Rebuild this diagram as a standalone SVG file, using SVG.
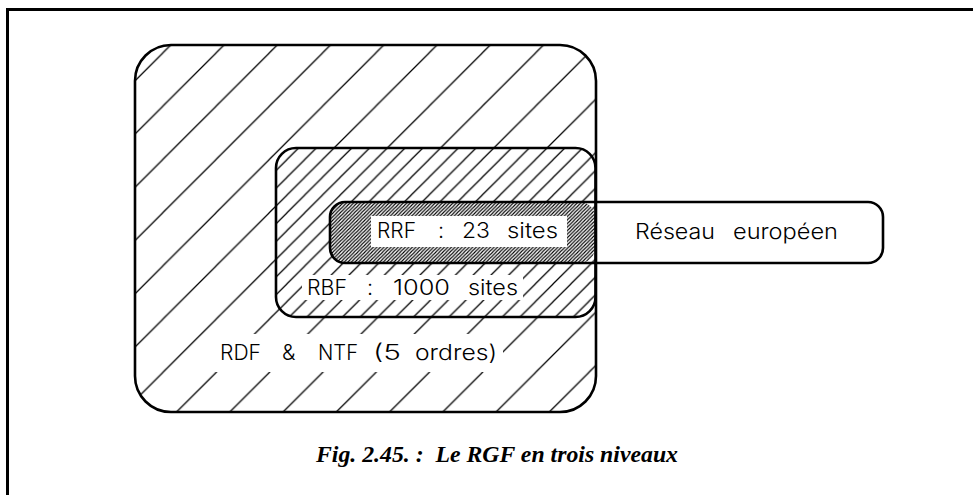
<svg xmlns="http://www.w3.org/2000/svg" width="973" height="495" viewBox="0 0 973 495">
  <style>
    .border { fill: none; stroke: #000; stroke-width: 2.6; }
    .cad { font-family: "Inter", "Roboto", "DejaVu Sans", sans-serif; font-weight: 300; font-size: 21.5px; fill: #000; }
    .caption { font-family: "Liberation Serif", "Times New Roman", serif; font-weight: bold; font-style: italic; font-size: 24px; fill: #000; white-space: pre; }
    .hatch { stroke: #000; stroke-width: 1.25; fill: none; }
  </style>
  <defs>
    <pattern id="hOuter" patternUnits="userSpaceOnUse" x="2.8" y="0" width="53.25" height="53.25">
      <path class="hatch" d="M-1,54.25 L54.25,-1 M-1,1 L1,-1 M52.25,54.25 L54.25,52.25"/>
    </pattern>
    <pattern id="hMid" patternUnits="userSpaceOnUse" x="2.8" y="0" width="17.75" height="17.75">
      <path class="hatch" d="M-1,18.75 L18.75,-1 M-1,1 L1,-1 M16.75,18.75 L18.75,16.75"/>
    </pattern>
    <pattern id="hInner" patternUnits="userSpaceOnUse" x="2.8" y="0" width="3.55" height="3.55">
      <path stroke="#000" stroke-width="1.1" fill="none" d="M-1,4.55 L4.55,-1 M-1,1 L1,-1 M2.55,4.55 L4.55,2.55"/>
    </pattern>
    <clipPath id="clipInner">
      <rect x="330" y="202" width="265" height="61" rx="15"/>
    </clipPath>
  </defs>

  <rect x="0" y="0" width="973" height="495" fill="#fff"/>
  <rect id="frame" x="7.5" y="9.5" width="1000" height="600" fill="none" stroke="#000" stroke-width="3"/>

  <g id="rdf-ntf">
    <rect x="135" y="45" width="461" height="367" rx="36" fill="url(#hOuter)"/>
  </g>
  <g id="rbf">
    <rect x="276" y="148" width="319.5" height="169" rx="20" fill="#fff"/>
    <rect x="276" y="148" width="319.5" height="169" rx="20" fill="url(#hMid)"/>
  </g>
  <g id="rrf">
    <g clip-path="url(#clipInner)">
      <rect x="330" y="202" width="266" height="61" fill="#fff"/>
      <rect x="330" y="202" width="266" height="61" fill="url(#hInner)"/>
    </g>
  </g>

  <!-- white label backgrounds -->
  <rect x="371" y="216" width="196" height="31" fill="#fff"/>
  <rect x="302" y="275" width="221" height="25" fill="#fff"/>
  <rect x="215" y="334" width="288" height="38" fill="#fff"/>

  <!-- outlines -->
  <rect class="border" x="135" y="45" width="461" height="367" rx="36"/>
  <rect class="border" x="276" y="148" width="319.5" height="169" rx="20"/>
  <g id="reseau-europeen">
    <rect class="border" x="330" y="202" width="553" height="61" rx="15"/>
    <text class="cad" y="239"><tspan x="635" textLength="80" lengthAdjust="spacingAndGlyphs">Réseau</tspan> <tspan x="733" textLength="105" lengthAdjust="spacingAndGlyphs">européen</tspan></text>
  </g>

  <g id="labels">
    <text class="cad" y="238"><tspan x="377" textLength="39" lengthAdjust="spacingAndGlyphs">RRF</tspan> <tspan x="438">:</tspan> <tspan x="462" textLength="28" lengthAdjust="spacingAndGlyphs">23</tspan> <tspan x="507" textLength="51" lengthAdjust="spacingAndGlyphs">sites</tspan></text>
    <text class="cad" y="295"><tspan x="307" textLength="40" lengthAdjust="spacingAndGlyphs">RBF</tspan> <tspan x="367">:</tspan> <tspan x="393" textLength="57" lengthAdjust="spacingAndGlyphs">1000</tspan> <tspan x="468" textLength="50" lengthAdjust="spacingAndGlyphs">sites</tspan></text>
    <text class="cad" y="360"><tspan x="220" textLength="41" lengthAdjust="spacingAndGlyphs">RDF</tspan> <tspan x="282">&amp;</tspan> <tspan x="318" textLength="40" lengthAdjust="spacingAndGlyphs">NTF</tspan> <tspan x="373" textLength="28" lengthAdjust="spacingAndGlyphs">(5</tspan> <tspan x="415" textLength="82" lengthAdjust="spacingAndGlyphs">ordres)</tspan></text>
  </g>

  <g id="connectors"/>

  <text class="caption" x="316" y="462" textLength="362" lengthAdjust="spacingAndGlyphs" xml:space="preserve">Fig. 2.45. :  Le RGF en trois niveaux</text>
</svg>
